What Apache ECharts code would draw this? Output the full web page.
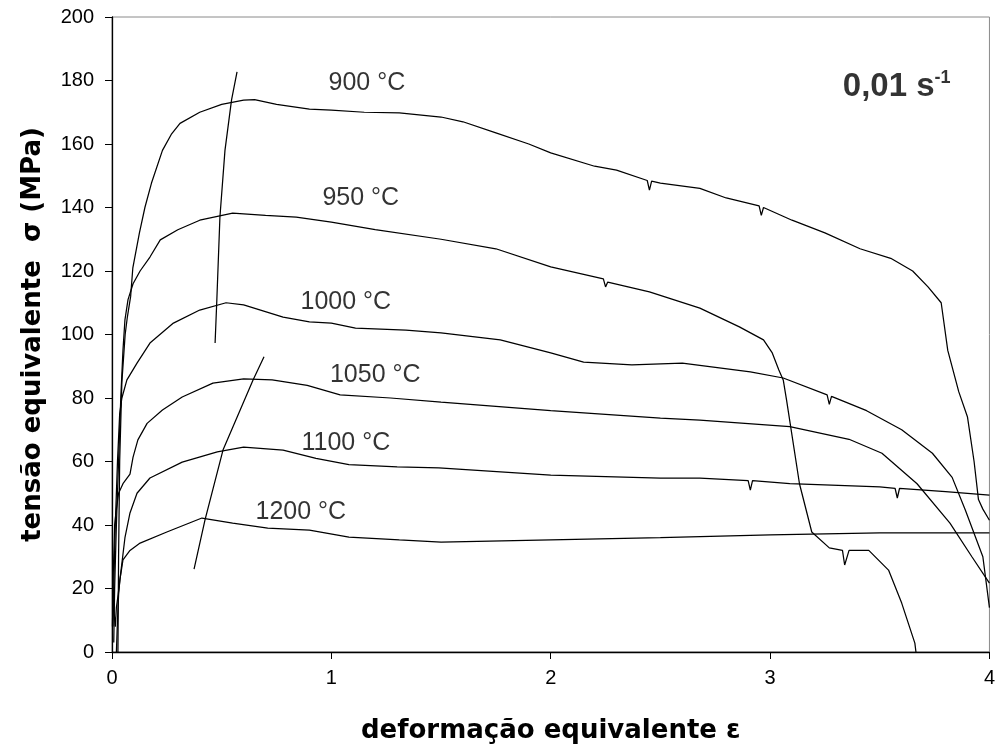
<!DOCTYPE html>
<html>
<head>
<meta charset="utf-8">
<script src="https://cdn.jsdelivr.net/npm/echarts@6/dist/echarts.min.js"></script>
<style>html,body{margin:0;padding:0;background:#fff}#c{width:998px;height:753px}</style>
</head>
<body>
<div id="c"></div>
<script>
// ---- data ----
const xTicks = [0, 1, 2, 3, 4];
const yTicks = [0, 20, 40, 60, 80, 100, 120, 140, 160, 180, 200];

const eps900 = [0.027,0.03,0.035,0.045,0.06,0.07,0.085,0.095,0.125,0.15,0.18,0.23,0.27,0.31,0.4,0.5,0.6,0.65,0.75,0.9,1.0,1.15,1.31,1.5,1.6,1.75,1.9,2.0,2.2,2.3,2.44,2.45,2.46,2.5,2.68,2.8,2.95,2.96,2.97,3.1,3.25,3.41,3.55,3.65,3.72,3.78,3.81,3.86,3.9,3.93,3.95,3.97,4.0];
const sig900 = [0,30,60,85,100,105.5,112,121,132,140,147.7,158,163,166.5,170,172.5,173.8,174,172.5,171,170.7,170,169.8,168.5,167,163.5,160,157.2,153,151.8,148.5,145.5,148.3,147.7,146,143,140.5,137.5,140,136,132,127,124,120,115,110,95,82,74,60,48,45,41.5];

const eps950 = [0.008,0.012,0.02,0.03,0.04,0.05,0.059,0.073,0.096,0.128,0.173,0.22,0.3,0.4,0.55,0.7,0.84,1.0,1.2,1.5,1.75,2.0,2.24,2.25,2.26,2.45,2.68,2.86,2.97,3.01,3.04,3.06,3.075,3.134,3.19,3.27,3.33,3.34,3.36,3.41,3.45,3.54,3.6,3.66,3.665];
const sig950 = [3,20,40,60,80,95,104.6,111,116,120,124.4,129.8,133,136,138.2,137.5,137,135.4,133,130,127,121.3,117.5,115,116.5,113.4,108.3,102.4,98.3,94.2,88.8,85.7,79.4,53,37.8,32.8,32,27.4,32,32,32,25.8,15.4,2.8,0];

const eps1000 = [0.004,0.008,0.015,0.025,0.035,0.045,0.068,0.114,0.173,0.28,0.4,0.52,0.6,0.78,0.9,1.0,1.11,1.34,1.5,1.77,2.0,2.15,2.37,2.6,2.91,3.06,3.26,3.27,3.28,3.44,3.6,3.74,3.83,3.89,3.97,4.0];
const sig1000 = [8,20,40,60,75,80,85.7,91,97.3,103.6,107.7,110,109.3,105.5,104,103.6,102,101.4,100.5,98.3,94.2,91.3,90.4,91,88.2,86.3,81,78,80.5,76,70,62.6,55,44.7,30,14];

const eps1050 = [0.003,0.006,0.012,0.02,0.03,0.05,0.082,0.096,0.118,0.16,0.23,0.32,0.46,0.6,0.73,0.89,1.04,1.27,1.5,2.0,2.5,2.68,3.09,3.36,3.51,3.67,3.82,3.92,4.0];
const sig1050 = [10,25,40,45,50,53,56,61.4,66.8,72,76.2,80.3,84.7,86,85.7,84,81,80,78.7,76,73.7,73,71,67,62.6,53,40.6,30,21.7];

const eps1100 = [0.002,0.005,0.01,0.015,0.02,0.028,0.036,0.059,0.082,0.114,0.173,0.32,0.48,0.6,0.78,0.93,1.08,1.3,1.49,2.0,2.5,2.68,2.9,2.91,2.92,3.09,3.5,3.57,3.58,3.59,3.8,4.0];
const sig1100 = [8,20,12,8,14,18,22.7,36,43.8,50,54.8,59.8,63,64.5,63.6,61,59,58.3,58,55.7,54.8,54.8,54,51,54,53,52,51.5,48.5,51.5,50.5,49.4];

const eps1200 = [0.02,0.025,0.03,0.036,0.05,0.082,0.128,0.25,0.41,0.55,0.71,0.9,1.08,1.31,1.5,2.0,2.5,3.0,3.5,4.0];
const sig1200 = [0,10,18,22.7,29,32,34.3,37.8,42.2,40.6,39,38.4,36.2,35.3,34.6,35.3,36,36.9,37.5,37.5];

// guide lines through the peaks
const epsGuideA = [0.570,0.545,0.515,0.492,0.478,0.470];
const sigGuideA = [182.7,173.9,158,137,111,97.3];
const epsGuideB = [0.374,0.424,0.506,0.643,0.693];
const sigGuideB = [26.1,41.6,63.6,85.7,93];

// curve labels
const tempLabels = ['900 °C', '950 °C', '1000 °C', '1050 °C', '1100 °C', '1200 °C'];
const labelEps = [1.162, 1.134, 1.066, 1.20, 1.066, 0.861];
const labelSig = [179.2, 143.0, 110.2, 87.2, 65.8, 44.0];
const rateText = '0,01 s';
const rateEps = 3.577, rateSig = 178;

// ---- chart ----
const zip = (a, b) => a.map((v, i) => [v, b[i]]);
const curves = [[eps900,sig900],[eps950,sig950],[eps1000,sig1000],[eps1050,sig1050],[eps1100,sig1100],[eps1200,sig1200],[epsGuideA,sigGuideA],[epsGuideB,sigGuideB]];
const FONT = 'Liberation Sans';

const series = curves.map(([e, s]) => ({
  type: 'line', data: zip(e, s), showSymbol: false, symbol: 'none',
  lineStyle: { color: '#000', width: 1.25 }, silent: true, z: 3
}));

series.push({
  type: 'scatter', symbolSize: 0, z: 5, silent: true,
  data: tempLabels.map((t, i) => ({ value: [labelEps[i], labelSig[i]], name: t })),
  label: {
    show: true, position: 'inside', color: '#000',
    formatter: p => p.name,
    fontFamily: FONT, fontSize: 25
  }
});

series.push({
  type: 'scatter', symbolSize: 0, z: 5, silent: true,
  data: [{ value: [rateEps, rateSig], label: { formatter: '{b|' + rateText + '}{e|-1}' } }],
  label: {
    show: true, position: 'inside', color: '#000',
    rich: {
      b: { fontFamily: FONT, fontSize: 33, fontWeight: 'bold', color: '#000', lineHeight: 36, verticalAlign: 'middle' },
      e: { fontFamily: FONT, fontSize: 18, fontWeight: 'bold', color: '#000', lineHeight: 36, verticalAlign: 'top' }
    }
  }
});

const chart = echarts.init(document.getElementById('c'), null, { renderer: 'canvas' });
chart.setOption({
  animation: false,
  backgroundColor: '#fff',
  grid: { left: 112, right: 8, top: 17, bottom: 101, show: true, borderColor: '#8a8a8a', borderWidth: 1, backgroundColor: 'transparent' },
  xAxis: {
    type: 'value', min: xTicks[0], max: xTicks[xTicks.length - 1], interval: xTicks[1] - xTicks[0],
    name: 'deformação equivalente ε', nameLocation: 'middle', nameGap: 66,
    nameTextStyle: { fontFamily: 'DejaVu Sans', fontWeight: 'bold', fontSize: 26, color: '#000' },
    axisLine: { show: true, onZero: false, lineStyle: { color: '#000', width: 1.3 } },
    axisTick: { show: true, inside: false, length: 7, lineStyle: { color: '#000' } },
    axisLabel: { fontFamily: FONT, fontSize: 20, color: '#000', margin: 16 },
    splitLine: { show: false }
  },
  yAxis: {
    type: 'value', min: yTicks[0], max: yTicks[yTicks.length - 1], interval: yTicks[1] - yTicks[0],
    name: 'tensão equivalente  σ (MPa)', nameLocation: 'middle', nameGap: 66,
    nameTextStyle: { fontFamily: 'DejaVu Sans', fontWeight: 'bold', fontSize: 26, color: '#000' },
    axisLine: { show: true, onZero: false, lineStyle: { color: '#000', width: 1.3 } },
    axisTick: { show: true, inside: false, length: 7, lineStyle: { color: '#000' } },
    axisLabel: { fontFamily: FONT, fontSize: 20, color: '#000', margin: 18 },
    splitLine: { show: false }
  },
  series: series
});
</script>
</body>
</html>
